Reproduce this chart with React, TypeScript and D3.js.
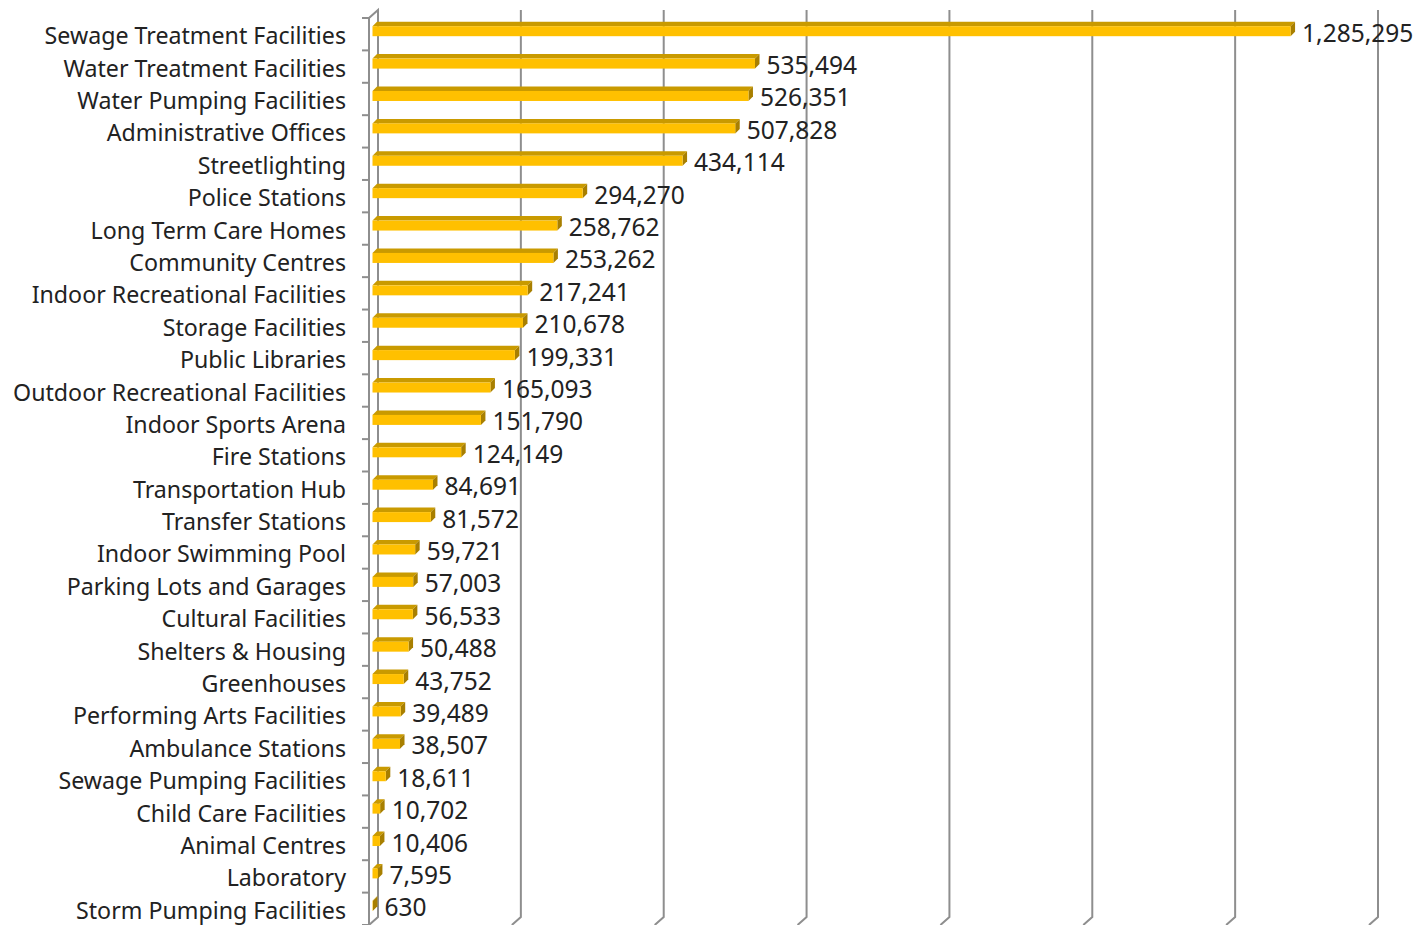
import React from "react";
import * as d3 from "d3";

const categories = [
  "Sewage Treatment Facilities","Water Treatment Facilities","Water Pumping Facilities","Administrative Offices",
  "Streetlighting","Police Stations","Long Term Care Homes","Community Centres","Indoor Recreational Facilities",
  "Storage Facilities","Public Libraries","Outdoor Recreational Facilities","Indoor Sports Arena","Fire Stations",
  "Transportation Hub","Transfer Stations","Indoor Swimming Pool","Parking Lots and Garages","Cultural Facilities",
  "Shelters & Housing","Greenhouses","Performing Arts Facilities","Ambulance Stations","Sewage Pumping Facilities",
  "Child Care Facilities","Animal Centres","Laboratory","Storm Pumping Facilities",
];
const values = [
  1285295,535494,526351,507828,434114,294270,258762,253262,217241,210678,199331,165093,151790,124149,
  84691,81572,59721,57003,56533,50488,43752,39489,38507,18611,10702,10406,7595,630,
];
const axisMax = 1400000;
const tickStep = 200000;

const W = 1416, H = 925;
const FRONT_LEFT = 369, FRONT_RIGHT = 1369, FRONT_TOP = 18, FRONT_BOTTOM = 925;
const DX = 9, DY = 8; // full depth offset (back wall = front + (DX,-DY))
const B1 = [3.5, 3]; // bar front depth
const B2 = [8, 7.5]; // bar back depth
const BAR_H = 10;

export default function App() {
  const x = d3.scaleLinear().domain([0, axisMax]).range([FRONT_LEFT, FRONT_RIGHT]);
  const y = d3.scaleBand<string>().domain(categories).range([FRONT_TOP, FRONT_BOTTOM]).padding(0);
  const ticks = d3.range(0, axisMax + 1, tickStep);
  const gridColor = "#8e8e8e";
  const font = "'Noto Sans', sans-serif";

  return (
    <svg width={W} height={H} style={{ position: "absolute", left: 0, top: 0, background: "#fff" }}>
      {ticks.map((t, i) => {
        const xf = x(t);
        if (i === 0) return null;
        return (
          <path key={"g" + i}
            d={`M${xf + DX},${FRONT_TOP - DY} L${xf + DX},${FRONT_BOTTOM - DY} L${xf},${FRONT_BOTTOM}`}
            fill="none" stroke={gridColor} strokeWidth={2} />
        );
      })}
      <path d={`M${FRONT_LEFT},${FRONT_BOTTOM} L${FRONT_LEFT},${FRONT_TOP} L${FRONT_LEFT + DX},${FRONT_TOP - DY} L${FRONT_LEFT + DX},${FRONT_BOTTOM - DY} L${FRONT_LEFT},${FRONT_BOTTOM}`}
        fill="none" stroke={gridColor} strokeWidth={2} />
      {d3.range(categories.length + 1).map((k) => {
        const yy = FRONT_TOP + k * y.step();
        return <line key={"t" + k} x1={FRONT_LEFT - 7} x2={FRONT_LEFT} y1={yy} y2={yy} stroke={gridColor} strokeWidth={2} />;
      })}
      {categories.map((c, i) => {
        const v = values[i];
        const cy = (y(c) as number) + y.bandwidth() / 2;
        const x0 = x(0), x1 = x(v);
        const top = cy - BAR_H / 2, bot = cy + BAR_H / 2;
        const fx0 = x0 + B1[0], fx1 = x1 + B1[0], ft = top - B1[1], fb = bot - B1[1];
        const bx0 = x0 + B2[0], bx1 = x1 + B2[0], bt = top - B2[1];
        const bb = bot - B2[1];
        return (
          <g key={"b" + i}>
            <path d={`M${fx0},${ft} L${bx0},${bt} L${bx1},${bt} L${fx1},${ft} Z`} fill="#C99A00" />
            <path d={`M${fx1},${ft} L${bx1},${bt} L${bx1},${bb} L${fx1},${fb} Z`} fill="#A87F00" />
            <rect x={fx0} y={ft} width={Math.max(0, fx1 - fx0)} height={BAR_H} fill="#FFC000" />
            <text x={bx1 + 7} y={cy - 2} dominantBaseline="central" fontFamily={font} fontSize={24.5} fill="#222">
              {d3.format(",")(v)}
            </text>
            <text x={346} y={cy + 1} dominantBaseline="central" textAnchor="end" fontFamily={font} fontSize={23.2} fill="#222">
              {c}
            </text>
          </g>
        );
      })}
    </svg>
  );
}
